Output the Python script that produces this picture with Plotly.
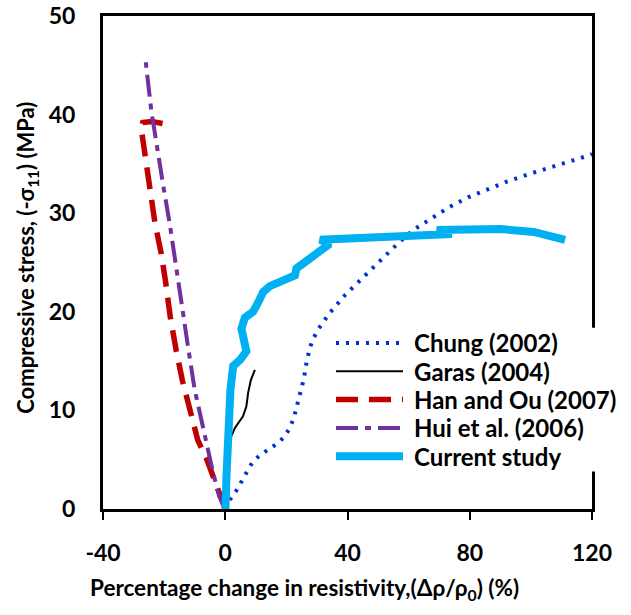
import plotly.graph_objects as go

# ---- data ----
chung_x = [0, 1.7, 3.7, 5.3, 6.9, 8.8, 11.1, 14.0, 16.8, 19.3, 21.1, 22.4, 23.3, 24.2, 25.2, 25.8, 26.3,
           26.9, 27.7, 29.0, 30.6, 32.6, 34.8, 39.2, 44.1, 49.0, 53.9, 56.4, 61.5, 67.3, 73.2, 79.4,
           85.6, 92.1, 98.7, 105.2, 111.8, 118.4, 120]
chung_y = [0, 1.0, 1.9, 2.8, 3.8, 4.7, 5.4, 6.0, 6.6, 7.3, 8.2, 9.2, 10.2, 11.3, 12.3, 13.3, 14.4,
           15.4, 16.4, 17.4, 18.3, 19.2, 20.1, 21.7, 23.2, 24.7, 26.1, 26.9, 28.3, 29.5, 30.6, 31.6,
           32.4, 33.2, 33.9, 34.5, 35.1, 35.8, 36.0]

garas_x = [0, 0.3, 0.8, 1.5, 3.1, 5.8, 6.9, 7.5, 8.4, 9.7]
garas_y = [0, 3.0, 5.5, 7.0, 8.2, 9.4, 10.4, 11.8, 13.1, 14.1]

han_x = [0, -3.0, -6.0, -9.0, -11.5, -14.0, -16.0, -18.0, -19.5, -21.0, -23.0, -24.5, -26.0, -27.0,
         -27.5, -27.0, -24.0, -20.5]
han_y = [0, 2.5, 5.0, 7.0, 10.0, 13.0, 16.0, 19.5, 23.0, 26.0, 29.0, 32.0, 35.0, 37.5,
         38.6, 39.2, 39.3, 39.1]

hui_x = [0, -2.0, -4.0, -6.7, -10.0, -12.2, -14.9, -16.5, -18.2, -20.4, -23.0, -24.2, -26.0]
hui_y = [0, 1.3, 3.7, 7.4, 12.1, 16.5, 22.4, 25.3, 29.0, 33.0, 38.0, 40.4, 45.3]

cur_x = [0, 0.1, 0.4, 0.7, 1.1, 1.7, 2.6, 4.8, 6.9, 5.8, 5.3, 6.4, 9.1, 10.7, 12.4, 14.6, 20.1,
         22.8, 23.3, 26.6, 29.9, 34.2, 31.0, 74.1, 69.2, 79.0, 89.9, 100.9, 111.2]
cur_y = [0, 0.3, 3.3, 6.4, 9.4, 12.1, 14.5, 15.1, 16.0, 17.2, 18.3, 19.4, 20.0, 20.9, 22.0, 22.6, 23.2,
         23.7, 24.4, 25.1, 25.8, 26.9, 27.3, 27.9, 28.3, 28.4, 28.4, 28.1, 27.3]

series_names = ["Chung (2002)", "Garas (2004)", "Han and Ou (2007)", "Hui et al. (2006)", "Current study"]

x_tickvals = [-40, 0, 40, 80, 120]
x_ticktext = ["-40", "0", "40", "80", "120"]
y_tickvals = [0, 10, 20, 30, 40, 50]

FONT = "Lato, 'Noto Sans', sans-serif"

styles = [
    dict(color="#0033CC", width=4, dash="3px,7px"),
    dict(color="black", width=2, dash="solid"),
    dict(color="#C00000", width=5.5, dash="22px,11px"),
    dict(color="#7030A0", width=4, dash="22px,7px,6px,7px"),
    dict(color="#00B0F0", width=8, dash="solid"),
]
series = [(chung_x, chung_y), (garas_x, garas_y), (han_x, han_y), (hui_x, hui_y), (cur_x, cur_y)]

fig = go.Figure()
for (xs, ys), name, st in zip(series, series_names, styles):
    fig.add_trace(go.Scatter(x=xs, y=ys, mode="lines", name=name, showlegend=False, line=st))

# ---- layout geometry (window pixels; body margin removed by post_script) ----
W, H = 631, 615
PLOT_L, PLOT_R, PLOT_T, PLOT_B = 103, 592, 16, 509.5
ML, MT = PLOT_L, PLOT_T
MR, MB = W - PLOT_R, H - PLOT_B
PW, PH = W - ML - MR, H - MT - MB


def px_x(p):
    return (p - ML) / PW


def px_y(p):
    return (H - MB - p) / PH


# manual legend (white box hides the right frame, like the reference)
shapes = [dict(type="rect", xref="paper", yref="paper", layer="above",
               x0=px_x(330), x1=px_x(640), y0=px_y(472), y1=px_y(328),
               fillcolor="white", line=dict(width=0))]
annotations = []
row0, row_step = 343.3, 28.35
for i, (name, st) in enumerate(zip(series_names, styles)):
    ry = px_y(row0 + i * row_step)
    shapes.append(dict(type="line", xref="paper", yref="paper", layer="above",
                       x0=px_x(336), x1=px_x(403), y0=ry, y1=ry,
                       line=dict(color=st["color"], width=st["width"], dash=st["dash"])))
    annotations.append(dict(text=name, xref="paper", yref="paper", x=px_x(412), y=ry,
                            xanchor="left", yanchor="middle", showarrow=False,
                            font=dict(family=FONT, size=24, color="black", weight="bold")))

annotations += [
    dict(text="Percentage change in resistivity,(Δρ/ρ<sub>0</sub>) (%)", xref="paper", yref="paper",
         x=px_x(304), y=px_y(590), xanchor="center", yanchor="middle", showarrow=False,
         font=dict(family=FONT, size=22.5, color="black", weight="bold")),
    dict(text="Compressive stress, (-σ<sub>11</sub>) (MPa)", xref="paper", yref="paper",
         x=px_x(27), y=px_y(258), xanchor="center", yanchor="middle", textangle=-90, showarrow=False,
         font=dict(family=FONT, size=22, color="black", weight="bold")),
]

fig.update_layout(
    width=W, height=H,
    margin=dict(l=ML, r=MR, t=MT, b=MB, autoexpand=False),
    paper_bgcolor="white", plot_bgcolor="white",
    font=dict(family=FONT, size=23, color="black", weight="bold"),
    showlegend=False,
    xaxis=dict(range=[-40, 120], tickvals=x_tickvals, ticktext=x_ticktext, showgrid=False, zeroline=False,
               showline=True, mirror=True, linecolor="black", linewidth=3,
               ticks="outside", ticklen=8, tickwidth=2, tickcolor="black",
               ticklabelstandoff=13, automargin=False, ticklabeloverflow="allow"),
    yaxis=dict(range=[0, 50], tickvals=y_tickvals, showgrid=False, zeroline=False,
               showline=True, mirror=True, linecolor="black", linewidth=3,
               ticks="outside", ticklen=20, tickcolor="rgba(0,0,0,0)", automargin=False,
               ticklabeloverflow="allow"),
    yaxis2=dict(range=[0, 50], tickvals=y_tickvals, overlaying="y", anchor="free", position=0.25,
                showgrid=False, zeroline=False, showline=True, linecolor="black", linewidth=3,
                ticks="outside", ticklen=8, tickwidth=3, tickcolor="black",
                showticklabels=False, automargin=False),
    shapes=shapes,
    annotations=annotations,
)

fig.write_html("out.html", config={"displayModeBar": False},
               post_script="document.body.style.margin='0';document.body.style.overflow='hidden';")
